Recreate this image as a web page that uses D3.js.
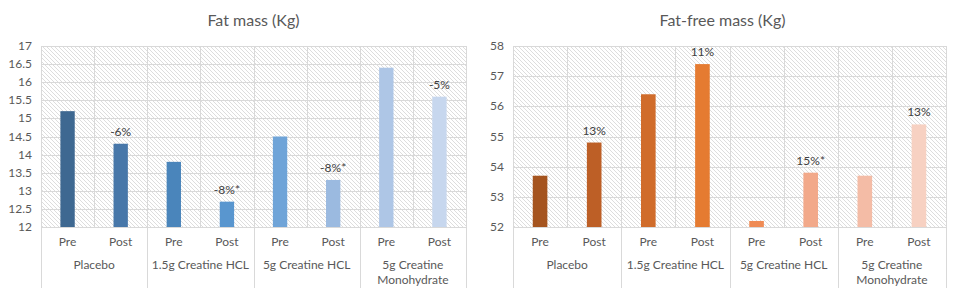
<!DOCTYPE html>
<html>
<head>
<meta charset="utf-8">
<script src="https://cdn.jsdelivr.net/npm/d3@7"></script>
<style>
  body { margin: 0; background: #fff; }
  svg { display: block; font-family: Lato, "Open Sans", sans-serif; }
</style>
</head>
<body>
<svg id="chart" width="961" height="295"></svg>
<script>
const groups = ["Placebo", "1.5g Creatine HCL", "5g Creatine HCL", "5g Creatine Monohydrate"];
const phases = ["Pre", "Post"];

const fatMass = [15.2, 14.3, 13.8, 12.7, 14.5, 13.3, 16.4, 15.6];
const fatLabels = ["", "-6%", "", "-8%*", "", "-8%*", "", "-5%"];
const fatTicks = [12, 12.5, 13, 13.5, 14, 14.5, 15, 15.5, 16, 16.5, 17];
const fatColors = ["#3e6891", "#4777a9", "#4a85bb", "#5996cf", "#6fa4d8", "#9bbae0", "#aec6e6", "#c7d7ee"];

const freeMass = [53.7, 54.8, 56.4, 57.4, 52.2, 53.8, 53.7, 55.4];
const freeLabels = ["", "13%", "", "11%", "", "15%*", "", "13%"];
const freeTicks = [52, 53, 54, 55, 56, 57, 58];
const freeColors = ["#a5541f", "#bd5f26", "#d06c2b", "#e57b31", "#ef8b55", "#f2a98a", "#f4bca6", "#f7d1c2"];

const svg = d3.select("#chart");
const textColor = "#595959";
const gridColor = "#d9d9d9";

svg.append("defs").append("pattern")
    .attr("id", "hatch")
    .attr("patternUnits", "userSpaceOnUse")
    .attr("width", 4)
    .attr("height", 4)
    .append("path")
    .attr("d", "M-1,-1L5,5M3,-1L5,1M-1,3L1,5")
    .attr("stroke", "#d4d4d4")
    .attr("stroke-width", 0.8);

function drawChart(opts) {
    const { left, right, top, bottom, title, values, labels, ticks, colors } = opts;
    const g = svg.append("g");

    const cells = [];
    groups.forEach(gr => phases.forEach(p => cells.push(gr + "|" + p)));

    const x = d3.scaleBand().domain(cells).range([left, right]).padding(0);
    const y = d3.scaleLinear().domain([ticks[0], ticks[ticks.length - 1]]).range([bottom, top]);

    // title
    g.append("text")
        .attr("x", (left + right) / 2 + opts.titleShift)
        .attr("y", 26)
        .attr("text-anchor", "middle")
        .attr("font-size", 16)
        .attr("fill", textColor)
        .text(title);

    // hatched background
    g.append("rect")
        .attr("x", left).attr("y", top)
        .attr("width", right - left).attr("height", bottom - top)
        .attr("fill", "url(#hatch)");

    // horizontal grid
    g.append("g").selectAll("line")
        .data(ticks.slice(1))
        .enter().append("line")
        .attr("x1", left).attr("x2", right)
        .attr("y1", d => Math.round(y(d)) + 0.5)
        .attr("y2", d => Math.round(y(d)) + 0.5)
        .attr("stroke", gridColor);

    // vertical grid
    const edges = cells.map(c => x(c)).concat([right]);
    g.append("g").selectAll("line")
        .data(edges)
        .enter().append("line")
        .attr("x1", d => Math.round(d) + 0.5).attr("x2", d => Math.round(d) + 0.5)
        .attr("y1", top).attr("y2", bottom)
        .attr("stroke", gridColor);

    // y tick labels
    g.append("g").selectAll("text")
        .data(ticks)
        .enter().append("text")
        .attr("x", left - 9)
        .attr("y", d => y(d) + 4)
        .attr("text-anchor", "end")
        .attr("font-size", 12)
        .attr("fill", textColor)
        .text(d => d);

    // bars
    const bw = x.bandwidth() * 0.27;
    g.append("g").selectAll("rect")
        .data(values)
        .enter().append("rect")
        .attr("x", (d, i) => x(cells[i]) + (x.bandwidth() - bw) / 2)
        .attr("y", d => y(d))
        .attr("width", bw)
        .attr("height", d => bottom - y(d))
        .attr("fill", (d, i) => colors[i]);

    // data labels
    g.append("g").selectAll("text")
        .data(values)
        .enter().append("text")
        .attr("x", (d, i) => x(cells[i]) + x.bandwidth() / 2)
        .attr("y", d => y(d) - 8)
        .attr("text-anchor", "middle")
        .attr("font-size", 12)
        .attr("fill", "#404040")
        .text((d, i) => labels[i]);

    // x axis line
    g.append("line")
        .attr("x1", left).attr("x2", right)
        .attr("y1", bottom + 0.5).attr("y2", bottom + 0.5)
        .attr("stroke", gridColor);

    // group separators
    const sepX = groups.map(gr => x(gr + "|Pre")).concat([right]);
    g.append("g").selectAll("line")
        .data(sepX)
        .enter().append("line")
        .attr("x1", d => Math.round(d) + 0.5).attr("x2", d => Math.round(d) + 0.5)
        .attr("y1", bottom).attr("y2", 288)
        .attr("stroke", gridColor);

    // Pre / Post labels
    g.append("g").selectAll("text")
        .data(cells)
        .enter().append("text")
        .attr("x", d => x(d) + x.bandwidth() / 2)
        .attr("y", bottom + 19)
        .attr("text-anchor", "middle")
        .attr("font-size", 12)
        .attr("fill", textColor)
        .text(d => d.split("|")[1]);

    // group labels
    const groupLines = [["Placebo"], ["1.5g Creatine HCL"], ["5g Creatine HCL"], ["5g Creatine", "Monohydrate"]];
    groups.forEach((gr, i) => {
        const cx = x(gr + "|Pre") + x.bandwidth();
        const t = g.append("text")
            .attr("text-anchor", "middle")
            .attr("font-size", 12)
            .attr("fill", textColor);
        groupLines[i].forEach((line, j) => {
            t.append("tspan")
                .attr("x", cx)
                .attr("y", bottom + 42 + j * 15)
                .text(line);
        });
    });
}

drawChart({
    left: 41, right: 466, top: 46, bottom: 227, titleShift: 0,
    title: "Fat mass (Kg)", values: fatMass, labels: fatLabels, ticks: fatTicks, colors: fatColors
});

drawChart({
    left: 513, right: 946, top: 46, bottom: 227, titleShift: -7,
    title: "Fat-free mass (Kg)", values: freeMass, labels: freeLabels, ticks: freeTicks, colors: freeColors
});
</script>
</body>
</html>
